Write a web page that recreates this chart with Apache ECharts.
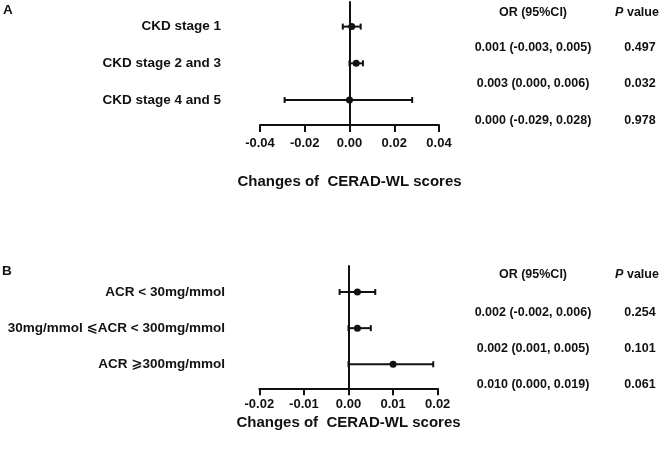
<!DOCTYPE html>
<html>
<head>
<meta charset="utf-8">
<script src="https://cdn.jsdelivr.net/npm/echarts@6/dist/echarts.min.js"></script>
<style>html,body{margin:0;padding:0;background:#fff}#c{width:662px;height:449px}</style>
</head>
<body>
<div id="c"></div>
<script>
// ---- Data ----
const rowsA = [1, 2, 3];
const labelsA = ["CKD stage 1", "CKD stage 2 and 3", "CKD stage 4 and 5"];
const estA = [0.001, 0.003, 0.000];
const lowA = [-0.003, 0.000, -0.029];
const highA = [0.005, 0.006, 0.028];
const orTextA = ["0.001 (-0.003, 0.005)", "0.003 (0.000, 0.006)", "0.000 (-0.029, 0.028)"];
const pTextA = ["0.497", "0.032", "0.978"];
const ticksA = [-0.04, -0.02, 0.00, 0.02, 0.04];

const rowsB = [1, 2, 3];
const labelsB = ["ACR < 30mg/mmol", "30mg/mmol \u2A7DACR < 300mg/mmol", "ACR \u2A7E300mg/mmol"];
const estB = [0.002, 0.002, 0.010];
const lowB = [-0.002, 0.000, 0.000];
const highB = [0.006, 0.005, 0.019];
const orTextB = ["0.002 (-0.002, 0.006)", "0.002 (0.001, 0.005)", "0.010 (0.000, 0.019)"];
const pTextB = ["0.254", "0.101", "0.061"];
const ticksB = [-0.02, -0.01, 0.00, 0.01, 0.02];

const axisTitle = "Changes of  CERAD-WL scores";
const headerOR = "OR (95%CI)";

// ---- Styling ----
const FONT = '"Liberation Sans", Arial, "DejaVu Sans", sans-serif';
const INK = '#111';

function makeRenderer(labels, orText, pText, labelRight) {
  return function (params, api) {
    const i = params.dataIndex;
    const row = api.value(0);
    const pe = api.coord([api.value(1), row]);
    const pl = api.coord([api.value(2), row]);
    const ph = api.coord([api.value(3), row]);
    const y = pe[1];
    const cap = 3;
    const ls = { stroke: INK, lineWidth: 2 };
    const txt = (x, yy, text, align) => ({
      type: 'text', x: x, y: yy,
      style: { text: text, fill: INK, fontFamily: FONT, fontWeight: 'bold',
               fontSize: 12.5, align: align, verticalAlign: 'middle' }
    });
    return {
      type: 'group',
      children: [
        { type: 'line', shape: { x1: pl[0], y1: y, x2: ph[0], y2: y }, style: ls },
        { type: 'line', shape: { x1: pl[0], y1: y - cap, x2: pl[0], y2: y + cap }, style: ls },
        { type: 'line', shape: { x1: ph[0], y1: y - cap, x2: ph[0], y2: y + cap }, style: ls },
        { type: 'circle', shape: { cx: pe[0], cy: y, r: 3.5 }, style: { fill: INK } },
        { type: 'text', x: labelRight, y: y,
          style: { text: labels[i], fill: INK, fontFamily: FONT, fontWeight: 'bold',
                   fontSize: 13.5, align: 'right', verticalAlign: 'middle' } },
        txt(533, y + 20.5, orText[i], 'center'),
        txt(640, y + 20.5, pText[i], 'center')
      ]
    };
  };
}

function xAxisCfg(gridIndex, ticks, margin, nameGap) {
  const step = ticks[1] - ticks[0];
  return {
    type: 'value', gridIndex: gridIndex,
    min: ticks[0], max: ticks[ticks.length - 1], interval: step,
    axisLine: { show: true, onZero: false, lineStyle: { color: INK, width: 2 } },
    axisTick: { show: true, inside: false, length: 7, lineStyle: { color: INK, width: 2 } },
    axisLabel: { color: INK, fontFamily: FONT, fontWeight: 'bold', fontSize: 13, margin: margin,
                 formatter: v => v.toFixed(2) },
    splitLine: { show: false },
    name: axisTitle, nameLocation: 'middle', nameGap: nameGap,
    nameTextStyle: { color: INK, fontFamily: FONT, fontWeight: 'bold', fontSize: 15 }
  };
}
function yAxisCfg(gridIndex, min, max) {
  return {
    type: 'value', gridIndex: gridIndex, inverse: true, min: min, max: max,
    axisLine: { show: true, onZero: true, lineStyle: { color: INK, width: 2 } },
    axisTick: { show: false }, axisLabel: { show: false }, splitLine: { show: false }
  };
}

const dataA = rowsA.map((r, i) => [r, estA[i], lowA[i], highA[i]]);
const dataB = rowsB.map((r, i) => [r, estB[i], lowB[i], highB[i]]);

const chart = echarts.init(document.getElementById('c'), null, { renderer: 'canvas' });
chart.setOption({
  animation: false,
  backgroundColor: '#fff',
  grid: [
    { left: 260, right: 223, top: 2, bottom: 324 },
    { left: 259.3, right: 224.3, top: 266, bottom: 60.7 }
  ],
  xAxis: [ xAxisCfg(0, ticksA, 12, 49), xAxisCfg(1, ticksB, 10, 27) ],
  yAxis: [ yAxisCfg(0, 0.33, 3.68), yAxisCfg(1, 0.281, 3.664) ],
  series: [
    { type: 'custom', xAxisIndex: 0, yAxisIndex: 0, clip: false,
      renderItem: makeRenderer(labelsA, orTextA, pTextA, 221),
      encode: { x: [1, 2, 3], y: 0 }, data: dataA },
    { type: 'custom', xAxisIndex: 1, yAxisIndex: 1, clip: false,
      renderItem: makeRenderer(labelsB, orTextB, pTextB, 225),
      encode: { x: [1, 2, 3], y: 0 }, data: dataB }
  ],
  graphic: [
    { type: 'text', x: 3, y: 10, style: { text: 'A', fill: INK, fontFamily: FONT, fontWeight: 'bold', fontSize: 13.5, verticalAlign: 'middle' } },
    { type: 'text', x: 2, y: 271, style: { text: 'B', fill: INK, fontFamily: FONT, fontWeight: 'bold', fontSize: 13.5, verticalAlign: 'middle' } },
    { type: 'text', x: 533, y: 13, style: { text: headerOR, fill: INK, fontFamily: FONT, fontWeight: 'bold', fontSize: 12.5, align: 'center', verticalAlign: 'middle' } },
    { type: 'text', x: 637, y: 13, style: { text: '{i|P} value', fill: INK, fontFamily: FONT, fontWeight: 'bold', fontSize: 12.5, align: 'center', verticalAlign: 'middle',
        rich: { i: { fontStyle: 'italic', fontWeight: 'bold', fontFamily: FONT, fontSize: 12.5, fill: INK } } } },
    { type: 'text', x: 533, y: 275, style: { text: headerOR, fill: INK, fontFamily: FONT, fontWeight: 'bold', fontSize: 12.5, align: 'center', verticalAlign: 'middle' } },
    { type: 'text', x: 637, y: 275, style: { text: '{i|P} value', fill: INK, fontFamily: FONT, fontWeight: 'bold', fontSize: 12.5, align: 'center', verticalAlign: 'middle',
        rich: { i: { fontStyle: 'italic', fontWeight: 'bold', fontFamily: FONT, fontSize: 12.5, fill: INK } } } }
  ]
});
</script>
</body>
</html>
